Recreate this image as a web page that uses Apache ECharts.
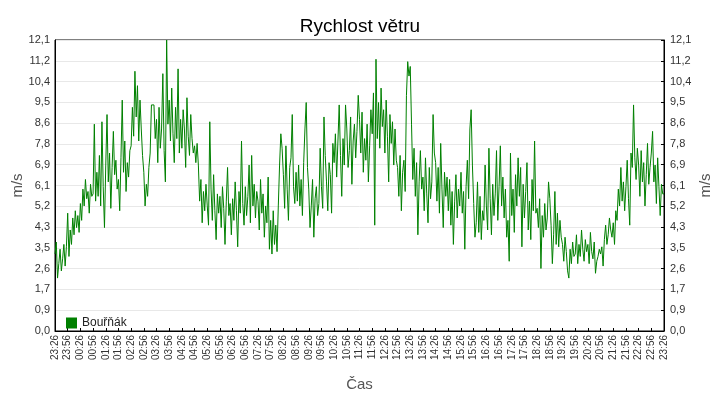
<!DOCTYPE html>
<html>
<head>
<meta charset="utf-8">
<script src="https://cdn.jsdelivr.net/npm/echarts@6/dist/echarts.min.js"></script>
<style>html,body{margin:0;padding:0;background:#fff;}#c{width:720px;height:400px;}</style>
</head>
<body>
<div id="c"></div>
<script>
const chartTitle = 'Rychlost větru';
const seriesName = 'Bouřňák';
const yName = 'm/s';
const xName = 'Čas';
const stepMinutes = 3;
const tickLabels = ['23:26','23:56','00:26','00:56','01:26','01:56','02:26','02:56','03:26','03:56',
  '04:26','04:56','05:26','05:56','06:26','06:56','07:26','07:56','08:26','08:56',
  '09:26','09:56','10:26','10:56','11:26','11:56','12:26','12:56','13:26','13:56',
  '14:26','14:56','15:26','15:56','16:26','16:56','17:26','17:56','18:26','18:56',
  '19:26','19:56','20:26','20:56','21:26','21:56','22:26','22:56','23:26'];
const yMax = 12.1;
const ySteps = 14;
const speed = [
  3.2,3.7,2.2,2.8,3.4,2.5,3.0,3.6,2.7,3.5,
  4.9,3.1,4.2,3.6,4.7,4.0,5.0,4.3,4.8,4.1,
  5.3,4.6,5.9,5.2,6.3,5.5,5.8,4.9,6.1,5.6,
  5.7,8.6,5.4,6.6,5.6,7.3,5.2,8.7,6.0,4.3,
  6.9,9.0,6.2,7.4,5.1,6.8,8.3,6.5,7.1,5.9,
  6.3,5.0,7.2,9.6,6.6,7.9,5.8,7.0,6.4,7.5,
  7.7,9.3,8.1,10.8,8.9,10.2,7.9,9.6,8.4,7.3,
  6.6,5.2,6.1,5.6,6.8,7.4,9.4,9.4,9.4,8.0,
  8.8,7.0,9.3,7.6,8.4,10.7,7.5,6.2,12.1,8.6,
  9.6,7.9,10.1,8.2,7.0,9.3,8.0,10.9,7.4,8.8,
  7.6,9.2,8.4,6.8,9.7,8.1,7.3,9.0,8.0,7.4,
  7.7,7.0,7.8,6.9,5.4,6.3,4.5,5.8,5.0,6.1,
  5.2,4.4,8.7,5.9,4.6,6.5,5.0,3.8,5.7,4.9,
  5.6,4.3,6.0,5.1,3.6,5.4,6.8,4.8,5.3,4.0,
  5.5,4.6,6.2,5.0,3.5,5.8,4.9,7.9,5.3,4.4,
  6.0,4.8,5.6,6.9,4.5,7.3,5.2,6.1,4.7,5.8,
  5.4,4.2,6.3,4.9,5.7,3.9,5.2,4.5,6.4,3.4,
  4.6,3.2,5.0,3.6,4.4,3.3,5.2,6.9,8.2,7.6,
  6.5,5.1,7.7,5.9,4.6,6.8,7.2,9.0,6.0,5.3,
  6.6,5.4,6.9,5.2,6.3,4.8,7.0,8.4,9.5,6.8,
  5.9,4.3,5.2,6.3,3.9,5.5,6.0,4.8,5.3,7.6,
  6.0,5.1,8.9,7.3,6.2,5.0,7.0,6.5,4.9,7.8,
  7.0,8.2,6.4,7.9,9.4,7.3,5.6,8.0,6.9,9.4,
  8.4,6.8,7.5,8.9,6.1,7.9,8.6,7.2,8.3,9.8,
  8.8,7.4,9.1,6.6,8.0,7.1,8.6,6.2,7.7,9.2,
  8.2,9.9,4.4,11.3,8.0,9.5,7.6,10.1,8.5,9.2,
  7.4,9.6,8.1,6.2,9.0,7.8,8.7,6.9,8.4,7.1,
  6.8,5.6,7.3,5.0,6.6,7.1,5.8,9.8,11.2,10.6,
  11.0,8.6,6.3,7.6,5.6,7.0,4.0,6.2,7.5,5.9,
  6.4,5.0,7.2,5.7,4.5,6.8,5.5,6.2,9.0,7.4,
  7.0,5.4,6.8,4.9,7.8,5.9,4.3,6.6,5.6,6.4,
  5.0,6.3,4.4,5.8,3.6,5.4,6.5,4.7,5.9,5.2,
  6.6,4.9,5.8,3.4,6.0,7.1,5.5,8.4,9.2,6.9,
  5.3,3.9,4.5,6.2,4.1,5.6,3.8,5.0,4.6,6.9,
  5.2,4.2,7.6,5.5,4.0,6.1,4.8,5.7,7.5,4.6,
  6.0,7.7,5.2,6.4,4.7,5.9,3.9,4.6,2.9,7.4,
  4.8,5.9,4.1,6.5,5.2,7.2,5.6,6.8,3.5,6.1,
  4.7,5.8,7.0,4.2,5.4,3.8,6.3,5.0,7.9,4.9,
  5.1,4.3,5.5,2.6,4.8,3.9,5.3,4.2,4.7,6.2,
  5.5,4.4,2.8,4.0,5.8,3.6,4.9,3.5,4.6,3.9,
  3.6,2.9,3.9,3.3,2.5,2.2,3.4,2.8,3.7,3.1,
  3.2,4.0,2.8,3.6,3.1,4.2,3.4,2.9,3.8,3.3,
  3.6,2.8,4.1,3.3,3.0,3.7,2.4,2.9,3.1,3.4,
  3.2,3.5,2.7,3.8,4.4,3.6,4.0,4.7,4.2,3.9,
  4.5,3.6,5.0,4.6,5.9,5.2,6.8,5.4,6.2,5.0,
  6.0,7.1,5.5,4.4,7.4,6.8,9.4,7.2,6.3,7.6,
  6.9,5.6,7.5,6.2,7.0,5.2,6.5,7.8,6.1,6.8,
  7.4,8.3,6.2,6.9,5.3,7.2,6.0,4.8,6.1,5.7,
  5.7
];

const data = speed.map((v, i) => [i * stepMinutes, v]);
const xMax = (tickLabels.length - 1) * 30;
const fmtY = v => (Math.round(v * 10 + 1e-6) / 10).toFixed(1).replace('.', ',');
const FONT = 'Liberation Sans';

const yAxisBase = {
  type: 'value', min: 0, max: yMax, interval: yMax / ySteps,
  name: yName, nameLocation: 'middle', nameRotate: 90, nameMoveOverlap: false,
  nameTextStyle: { fontFamily: FONT, fontSize: 15, color: '#555' },
  axisLine: { show: true, lineStyle: { color: '#000', width: 1 } },
  axisLabel: { formatter: fmtY, fontFamily: FONT, fontSize: 11, color: '#333' }
};

const chart = echarts.init(document.getElementById('c'), null, { renderer: 'canvas' });
chart.setOption({
  animation: false,
  backgroundColor: '#fff',
  title: {
    text: chartTitle, left: 'center', top: 12,
    textStyle: { fontFamily: FONT, fontSize: 19, fontWeight: 'normal', color: '#000' }
  },
  legend: {
    left: 61, top: 312, icon: 'rect', itemWidth: 11, itemHeight: 11, itemGap: 10,
    textStyle: { fontFamily: FONT, fontSize: 12, color: '#222' },
    data: [seriesName]
  },
  grid: {
    left: 55, right: 56, top: 40, bottom: 69, containLabel: false, outerBoundsMode: 'none',
    show: true, borderColor: '#000', borderWidth: 1, backgroundColor: 'transparent'
  },
  xAxis: {
    type: 'value', min: 0, max: xMax, interval: 30,
    name: xName, nameLocation: 'middle', nameGap: 46,
    nameTextStyle: { fontFamily: FONT, fontSize: 15, color: '#555' },
    axisLine: { show: true, lineStyle: { color: '#000', width: 1 } },
    axisTick: { show: true, inside: true, length: 3, lineStyle: { color: '#000' } },
    splitLine: { show: false },
    axisLabel: {
      rotate: 90, margin: 4, fontFamily: FONT, fontSize: 10, color: '#333',
      formatter: v => tickLabels[Math.round(v / 30)] || ''
    }
  },
  yAxis: [
    Object.assign({}, yAxisBase, {
      position: 'left', nameGap: 30,
      axisTick: { show: false },
      axisLabel: Object.assign({}, yAxisBase.axisLabel, { margin: 5 }),
      splitLine: { show: true, lineStyle: { color: '#e8e8e8', width: 1 } }
    }),
    Object.assign({}, yAxisBase, {
      position: 'right', nameGap: 34,
      axisTick: { show: true, inside: true, length: 3, lineStyle: { color: '#000' } },
      axisLabel: Object.assign({}, yAxisBase.axisLabel, { margin: 6 }),
      splitLine: { show: false }
    })
  ],
  series: [{
    name: seriesName, type: 'line', step: 'end', data: data,
    yAxisIndex: 0, showSymbol: false, symbol: 'none',
    lineStyle: { color: '#008000', width: 1 }, itemStyle: { color: '#008000' }
  }]
});
</script>
</body>
</html>
